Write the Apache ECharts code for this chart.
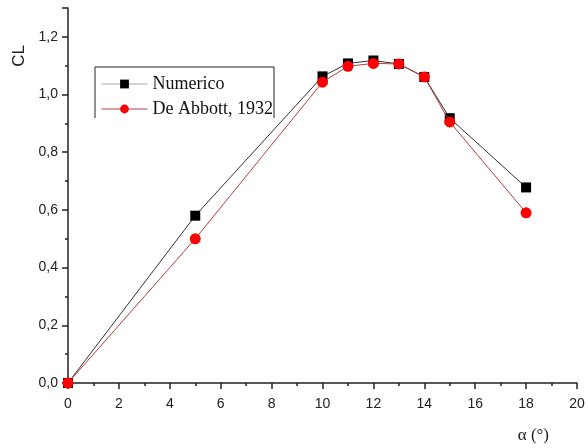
<!DOCTYPE html>
<html>
  <head>
    <meta charset="utf-8" />
    <title>CL vs alpha</title>
    <script src="https://cdn.jsdelivr.net/npm/echarts@6/dist/echarts.min.js"></script>
  </head>
  <body style="margin:0">
    <div id="main" style="width: 588px;height:448px;"></div>
    <script type="text/javascript">
      var chartDom = document.getElementById('main');
      var myChart = echarts.init(chartDom);
      var option;

      // angle of attack (deg) and lift coefficient
      var alphaNum = [0, 5, 10, 11, 12, 13, 14, 15, 18];
      var clNum = [0, 0.58, 1.063, 1.108, 1.118, 1.106, 1.061, 0.918, 0.678];
      var alphaAbbott = [0, 5, 10, 11, 12, 13, 14, 15, 18];
      var clAbbott = [0, 0.5, 1.043, 1.098, 1.108, 1.106, 1.061, 0.905, 0.59];

      function pairs(xs, ys) {
        return xs.map(function (x, i) { return [x, ys[i]]; });
      }

      function fmt(v) {
        return v.toFixed(1).replace('.', ',');
      }

      option = {
        animation: false,
        backgroundColor: '#fff',
        grid: { left: 68, right: 11, top: 8, bottom: 65 },
        legend: {
          left: 96,
          top: 70,
          orient: 'vertical',
          itemGap: 7,
          itemWidth: 46,
          itemHeight: 11,
          textStyle: { fontFamily: 'Liberation Serif', fontSize: 18, color: '#111' },
          data: [
            { name: 'Numerico', lineStyle: { color: '#aaa', width: 1 } },
            { name: 'De Abbott, 1932', lineStyle: { color: '#b04040', width: 1 } }
          ]
        },
        graphic: [
          {
            type: 'polyline',
            shape: { points: [[95, 118], [95, 67], [274, 67], [274, 118]] },
            style: { stroke: '#222', fill: null, lineWidth: 1 }
          },
          {
            type: 'text',
            x: 19,
            y: 56,
            rotation: Math.PI / 2,
            style: {
              text: 'CL', fontFamily: 'Liberation Sans', fontSize: 17, fill: '#222',
              align: 'center', verticalAlign: 'middle'
            }
          }
        ],
        xAxis: {
          type: 'value',
          min: 0,
          max: 20,
          interval: 2,
          name: 'α (°)',
          nameLocation: 'end',
          nameGap: 0,
          nameTextStyle: {
            fontFamily: 'Liberation Serif', fontSize: 17, color: '#222',
            align: 'right', verticalAlign: 'top', padding: [44, 28, 0, 0]
          },
          axisLine: { lineStyle: { color: '#222', width: 1.5 } },
          axisTick: { length: 6, lineStyle: { color: '#222', width: 1.5 } },
          minorTick: { show: true, splitNumber: 2, length: 3, lineStyle: { color: '#222', width: 1.5 } },
          splitLine: { show: false },
          axisLabel: { fontFamily: 'Liberation Sans', fontSize: 14, color: '#222', margin: 14 }
        },
        yAxis: {
          type: 'value',
          min: 0,
          max: 1.3,
          interval: 0.2,
          axisLine: { show: true, lineStyle: { color: '#222', width: 1.5 } },
          axisTick: { show: true, length: 6, lineStyle: { color: '#222', width: 1.5 } },
          minorTick: { show: true, splitNumber: 2, length: 3, lineStyle: { color: '#222', width: 1.5 } },
          splitLine: { show: false },
          axisLabel: {
            fontFamily: 'Liberation Sans', fontSize: 14, color: '#222', margin: 10,
            formatter: function (v) { return v > 1.25 ? '' : fmt(v); }
          }
        },
        series: [
          {
            name: 'Numerico',
            type: 'line',
            data: pairs(alphaNum, clNum),
            symbol: 'rect',
            symbolSize: 10,
            itemStyle: { color: '#000' },
            lineStyle: { color: '#333', width: 1 },
            z: 2
          },
          {
            name: 'De Abbott, 1932',
            type: 'line',
            data: pairs(alphaAbbott, clAbbott),
            symbol: 'circle',
            symbolSize: 11,
            itemStyle: { color: '#ff0000' },
            lineStyle: { color: '#b04040', width: 1 },
            z: 3
          }
        ]
      };

      option && myChart.setOption(option);
    </script>
  </body>
</html>
